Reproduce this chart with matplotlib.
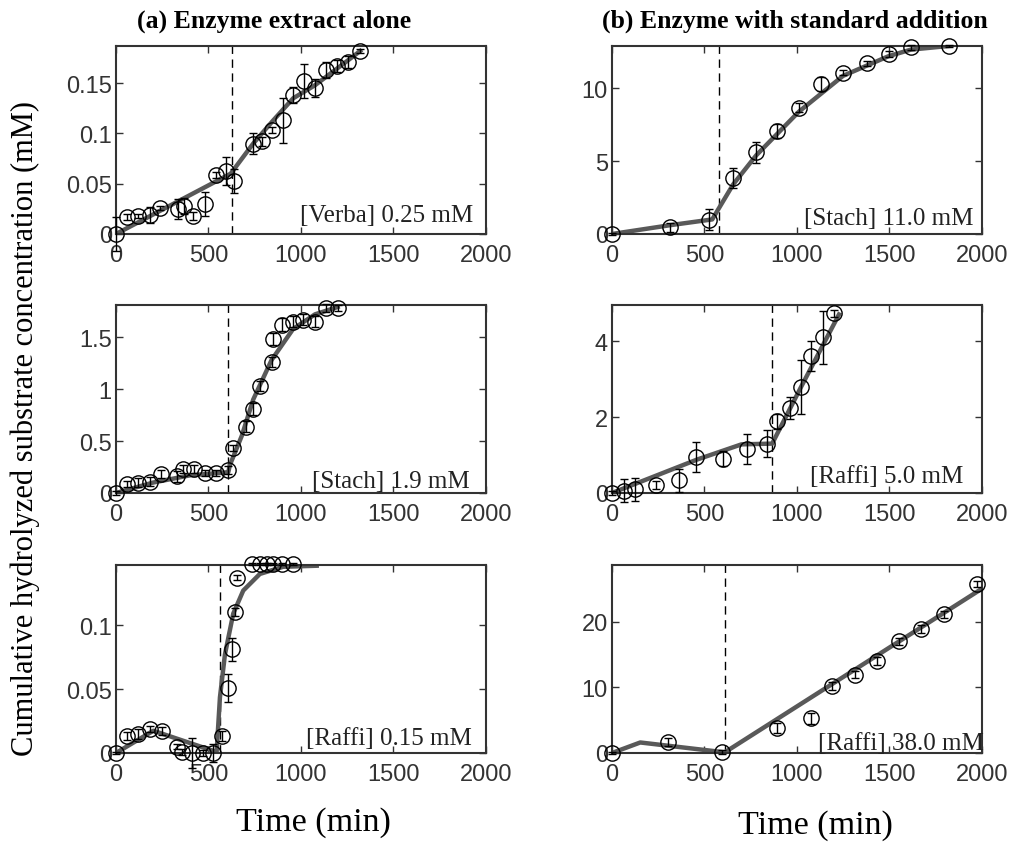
import numpy as np
import matplotlib.pyplot as plt
from matplotlib.ticker import FormatStrFormatter

# (a) Verba 0.25 mM
verba_t = [0, 58, 121, 184, 238, 337, 368, 418, 481, 541, 595, 638, 742, 787, 841, 904, 958, 1016, 1076, 1135, 1193, 1256, 1319]
verba_c = [0, 0.0167, 0.0177, 0.019, 0.026, 0.025, 0.0277, 0.0177, 0.03, 0.059, 0.063, 0.053, 0.09, 0.092, 0.103, 0.113, 0.138, 0.152, 0.145, 0.163, 0.167, 0.171, 0.182]
verba_e = [0.017, 0.003, 0.002, 0.008, 0.002, 0.01, 0.008, 0.004, 0.012, 0.003, 0.014, 0.012, 0.01, 0.004, 0.003, 0.022, 0.008, 0.017, 0.009, 0.008, 0.006, 0.006, 0.002]
verba_fit_t = [0, 300, 620, 742, 850, 958, 1076, 1256, 1320]
verba_fit_c = [0, 0.029, 0.06, 0.09, 0.113, 0.135, 0.148, 0.173, 0.182]

# (a) Stach 1.9 mM
stach_t = [0, 58, 121, 184, 243, 328, 360, 423, 481, 541, 607, 634, 703, 742, 778, 841, 847, 899, 958, 1013, 1076, 1135, 1198]
stach_c = [0, 0.09, 0.1, 0.11, 0.18, 0.16, 0.23, 0.23, 0.19, 0.19, 0.22, 0.43, 0.64, 0.81, 1.03, 1.26, 1.48, 1.62, 1.65, 1.67, 1.65, 1.78, 1.78]
stach_e = [0.02, 0.03, 0.04, 0.04, 0.04, 0.05, 0.04, 0.04, 0.03, 0.03, 0.04, 0.03, 0.05, 0.06, 0.05, 0.05, 0.06, 0.06, 0.05, 0.05, 0.05, 0.04, 0.03]
stach_fit_t = [0, 200, 400, 607, 616, 680, 742, 841, 958, 1076, 1198]
stach_fit_c = [0, 0.1, 0.17, 0.2, 0.27, 0.55, 0.9, 1.28, 1.58, 1.72, 1.79]

# (a) Raffi 0.15 mM
raffi_t = [0, 58, 121, 184, 247, 328, 355, 409, 472, 526, 571, 607, 625, 643, 652, 733, 778, 814, 850, 896, 958]
raffi_c = [0, 0.0135, 0.015, 0.0188, 0.0174, 0.005, 0.0008, 0, 0, 0, 0.0135, 0.051, 0.081, 0.11, 0.137, 0.1477, 0.1477, 0.1477, 0.1477, 0.1477, 0.1477]
raffi_e = [0.001, 0.003, 0.004, 0.002, 0.003, 0.002, 0.002, 0.012, 0.002, 0.007, 0.004, 0.011, 0.009, 0.003, 0.002, 0.001, 0.001, 0.001, 0.001, 0.001, 0.001]
raffi_fit_t = [0, 202, 544, 562, 589, 634, 688, 778, 904, 1085]
raffi_fit_c = [0, 0.0174, 0.0008, 0.0435, 0.077, 0.109, 0.127, 0.14, 0.1456, 0.1464]

# (b) Stach 11.0 mM
stach_sa_t = [0, 312, 523, 655, 780, 893, 1011, 1132, 1249, 1377, 1495, 1616, 1820]
stach_sa_c = [0, 0.46, 0.99, 3.85, 5.6, 7.06, 8.67, 10.28, 11.08, 11.7, 12.34, 12.8, 12.9]
stach_sa_e = [0.1, 0.3, 0.7, 0.7, 0.7, 0.5, 0.3, 0.5, 0.2, 0.2, 0.2, 0.2, 0.1]
stach_sa_fit_t = [0, 312, 542, 655, 780, 1011, 1249, 1495, 1616, 1820]
stach_sa_fit_c = [0, 0.6, 1.0, 3.4, 5.4, 8.4, 10.85, 12.2, 12.65, 12.9]

# (b) Raffi 5.0 mM
raffi5_t = [0, 63, 126, 240, 361, 455, 599, 731, 839, 894, 962, 1023, 1078, 1141, 1200]
raffi5_c = [0, 0.06, 0.1, 0.21, 0.33, 0.94, 0.9, 1.16, 1.3, 1.89, 2.24, 2.79, 3.6, 4.1, 4.73]
raffi5_e = [0.05, 0.3, 0.3, 0.1, 0.3, 0.4, 0.2, 0.4, 0.35, 0.2, 0.3, 0.7, 0.4, 0.7, 0.1]
raffi5_fit_t = [0, 460, 700, 866, 1023, 1227]
raffi5_fit_c = [0, 0.88, 1.28, 1.3, 2.8, 4.7]

# (b) Raffi 38.0 mM
raffi38_t = [0, 301, 596, 893, 1074, 1191, 1314, 1435, 1552, 1673, 1792, 1973]
raffi38_c = [0, 1.62, 0.1, 3.8, 5.28, 10.25, 11.9, 14.06, 17.0, 18.8, 21.07, 25.7]
raffi38_e = [0.2, 0.6, 0.3, 0.8, 0.8, 0.6, 0.5, 0.6, 0.5, 0.6, 0.5, 0.5]
raffi38_fit_t = [0, 153, 610, 2000]
raffi38_fit_c = [0, 1.6, 0.1, 25.0]

panels = [
    (verba_t, verba_c, verba_e, verba_fit_t, verba_fit_c, 625, 0.187, [0, 0.05, 0.1, 0.15], '[Verba] 0.25 mM', 0.965, 0.07),
    (stach_t, stach_c, stach_e, stach_fit_t, stach_fit_c, 607, 1.81, [0, 0.5, 1, 1.5], '[Stach] 1.9 mM', 0.957, 0.03),
    (raffi_t, raffi_c, raffi_e, raffi_fit_t, raffi_fit_c, 562, 0.147, [0, 0.05, 0.1], '[Raffi] 0.15 mM', 0.962, 0.05),
    (stach_sa_t, stach_sa_c, stach_sa_e, stach_sa_fit_t, stach_sa_fit_c, 576, 12.9, [0, 5, 10], '[Stach] 11.0 mM', 0.976, 0.055),
    (raffi5_t, raffi5_c, raffi5_e, raffi5_fit_t, raffi5_fit_c, 866, 4.95, [0, 2, 4], '[Raffi] 5.0 mM', 0.95, 0.06),
    (raffi38_t, raffi38_c, raffi38_e, raffi38_fit_t, raffi38_fit_c, 612, 28.6, [0, 10, 20], '[Raffi] 38.0 mM', 1.005, 0.02),
]

fig = plt.figure(figsize=(10.11, 8.45), dpi=100)
lefts = [0.1147, 0.6053]
bottoms = [0.7219, 0.4154, 0.1077]
fg = '#333333'

for i, (t, c, e, ft, fc, vline, ymax, yt, label, lx, ly) in enumerate(panels):
    ax = fig.add_axes([lefts[i // 3], bottoms[i % 3], 0.366, 0.2225])
    ax.plot(ft, fc, color='#595959', lw=3.2, zorder=2)
    ax.errorbar(t, c, yerr=e, fmt='o', mfc='none', mec='black', ms=11, mew=1.0,
                ecolor='black', elinewidth=1.0, capsize=3, zorder=3, clip_on=False)
    ax.axvline(vline, color='black', lw=1.0, ls=(0, (6, 4)), zorder=1)
    ax.set_xlim(0, 2000)
    ax.set_ylim(0, ymax)
    ax.set_xticks([0, 500, 1000, 1500, 2000])
    ax.set_yticks(yt)
    ax.yaxis.set_major_formatter(FormatStrFormatter('%g'))
    ax.tick_params(direction='in', top=True, right=True, length=5, width=1.0,
                   colors=fg, labelsize=17, pad=3)
    ax.tick_params(axis='x', pad=7)
    for lab in ax.get_xticklabels() + ax.get_yticklabels():
        lab.set_fontfamily('Liberation Sans')
    for s in ax.spines.values():
        s.set_color(fg)
        s.set_linewidth(1.5)
    ax.text(lx, ly, label, transform=ax.transAxes, ha='right', va='baseline',
            fontsize=18, family='Liberation Serif', color='#222222', zorder=4)

fig.text(0.271, 0.975, '(a) Enzyme extract alone', ha='center', va='center',
         fontsize=18.5, fontweight='bold', family='Liberation Serif')
fig.text(0.786, 0.975, '(b) Enzyme with standard addition', ha='center', va='center',
         fontsize=18.5, fontweight='bold', family='Liberation Serif')
fig.text(0.025, 1 - 428 / 845, 'Cumulative hydrolyzed substrate concentration (mM)',
         rotation=90, ha='center', va='center', fontsize=22, family='Liberation Serif')
fig.text(0.31, 0.026, 'Time (min)', ha='center', va='center', fontsize=24.5, family='Liberation Serif')
fig.text(0.807, 0.0225, 'Time (min)', ha='center', va='center', fontsize=24.5, family='Liberation Serif')

fig.savefig('out.png', dpi=100)
